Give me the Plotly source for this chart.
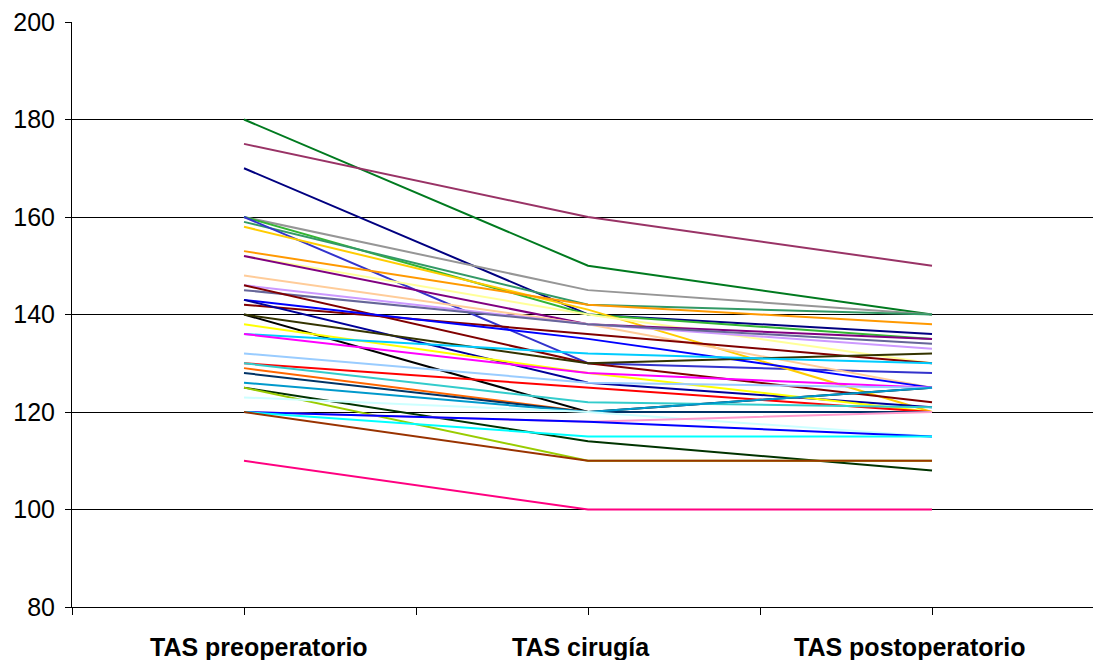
import plotly.graph_objects as go

# Presión arterial sistólica (TAS, mmHg) de cada paciente en los tres momentos
momentos = ["TAS preoperatorio", "TAS cirugía", "TAS postoperatorio"]
# desplazamiento horizontal de cada rótulo respecto a su categoría (en unidades de categoría)
desplaz_rotulo = [0.044, -0.02, -0.065]

tas_pre = [180, 175, 170, 160, 160, 159, 160, 158, 153, 152, 152, 148, 146, 145,
           146, 142, 143, 143, 140, 140, 138, 136, 136, 132, 130, 130, 129, 128,
           126, 125, 125, 123, 120, 120, 120, 120, 110]
tas_cir = [150, 160, 140, 145, 140, 142, 130, 141, 142, 140, 138, 138, 138, 138,
           130, 136, 135, 126, 120, 130, 128, 132, 128, 126, 125, 122, 120, 120,
           120, 114, 110, 120, 118, 118, 115, 110, 100]
tas_post = [140, 150, 136, 140, 135, 140, 128, 120, 138, 130, 135, 125, 133, 134,
            122, 130, 125, 121, 125, 132, 120, 130, 125, 125, 120, 121, 120, 120,
            125, 108, 110, 115, 120, 115, 115, 110, 100]
colores = ["#007A1F", "#993366", "#000080", "#969696", "#33B533", "#339966",
           "#3333CC", "#FFCC00", "#FF9900", "#FFFF99", "#800080", "#FFCC99",
           "#CC99FF", "#666699", "#800000", "#800000", "#0000FF", "#000099",
           "#000000", "#333300", "#FFFF00", "#00CCFF", "#FF00FF", "#99CCFF",
           "#FF0000", "#33CCCC", "#FF6600", "#003366", "#0099CC", "#003300",
           "#99CC00", "#CCFFFF", "#FF99CC", "#0000FF", "#00FFFF", "#993300",
           "#FF0080"]

fig = go.Figure()
for i in range(len(tas_pre)):
    fig.add_trace(go.Scatter(
        x=[0, 1, 2],
        y=[tas_pre[i], tas_cir[i], tas_post[i]],
        mode="lines",
        line=dict(color=colores[i], width=2),
        showlegend=False,
        hoverinfo="y",
    ))

fuente = "Liberation Sans, Arial, sans-serif"

# Rótulos de las categorías bajo el eje
for k, nombre in enumerate(momentos):
    fig.add_annotation(
        x=k + desplaz_rotulo[k], xref="x",
        y=0, yref="paper", yanchor="top", yshift=-24,
        text=nombre, showarrow=False,
        font=dict(size=25, family=fuente, weight="bold", color="black"),
    )

fig.update_layout(
    width=1093, height=660,
    margin=dict(l=72, r=0, t=22, b=53),
    paper_bgcolor="white", plot_bgcolor="white",
    font=dict(family=fuente, color="black"),
)
fig.update_xaxes(
    range=[-0.5, 2.468],
    tickvals=[0, 1, 2], showticklabels=False,
    ticks="outside", ticklen=7, tickcolor="black", tickwidth=1,
    minor=dict(tickvals=[-0.5, 0.5, 1.5], ticks="outside", ticklen=7,
               tickcolor="black", tickwidth=1, showgrid=False),
    showgrid=False, zeroline=False,
    showline=True, linecolor="black", linewidth=1,
    automargin=False,
)
fig.update_yaxes(
    range=[80, 200], dtick=20,
    tickfont=dict(size=25, family=fuente),
    ticks="outside", ticklen=6, tickcolor="black",
    showgrid=True, gridcolor="black", gridwidth=1,
    zeroline=False,
    showline=True, linecolor="black", linewidth=1,
    ticklabelstandoff=5, automargin=False,
)

fig.write_html("out.html")
